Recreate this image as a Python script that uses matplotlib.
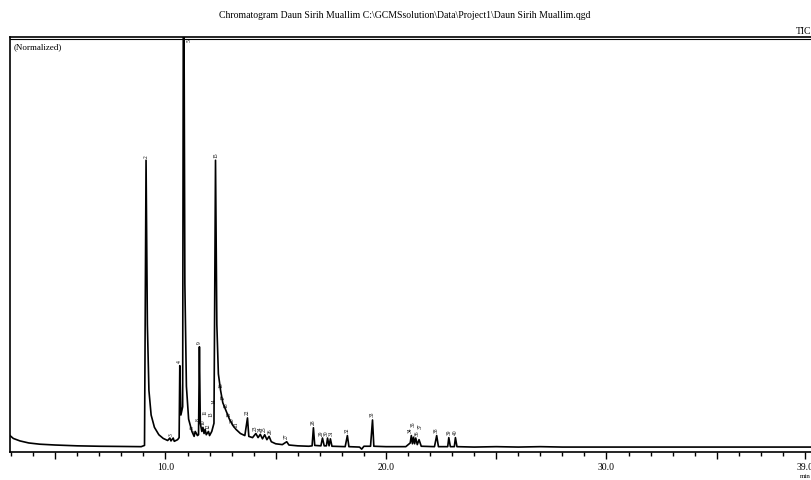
"""GC-MS total ion chromatogram, Daun Sirih Muallim (normalized)."""
import matplotlib.pyplot as plt
from matplotlib.ticker import MultipleLocator

# trace: retention time (min) and normalized intensity (%)
rt_min = [
    2.95, 3.1, 3.4, 3.8, 4.3, 5.0, 6.0, 7.0, 8.0, 8.9, 9.05, 9.12, 9.18, 9.25,
    9.35, 9.5, 9.7, 9.9, 10.1, 10.2, 10.25, 10.35, 10.4, 10.55, 10.62, 10.65,
    10.7, 10.78, 10.82, 10.88, 10.95, 11.05, 11.2, 11.3, 11.35, 11.45, 11.5,
    11.54, 11.58, 11.65, 11.7, 11.75, 11.8, 11.85, 11.95, 12.0, 12.1, 12.2,
    12.27, 12.33, 12.4, 12.5, 12.6, 12.75, 12.9, 13.05, 13.2, 13.4, 13.6,
    13.72, 13.78, 13.95, 14.1, 14.2, 14.3, 14.4, 14.5, 14.6, 14.7, 14.8, 15.0,
    15.3, 15.5, 15.6, 16.0, 16.5, 16.65, 16.71, 16.77, 17.05, 17.12, 17.2,
    17.3, 17.35, 17.42, 17.48, 17.55, 18.15, 18.25, 18.32, 18.8, 18.9, 19.0,
    19.3, 19.39, 19.45, 20.0, 20.9, 21.1, 21.15, 21.2, 21.25, 21.3, 21.35,
    21.42, 21.5, 21.6, 22.2, 22.3, 22.38, 22.8, 22.85, 22.92, 23.1, 23.15,
    23.22, 24.0, 25.0, 26.0, 27.0, 28.0, 30.0, 32.0, 34.0, 36.0, 38.0, 40.5,
]
intensity = [
    3.0, 2.3, 1.7, 1.2, 0.9, 0.7, 0.5, 0.4, 0.35, 0.3, 0.6, 70.0, 30.0, 14.0,
    8.0, 5.0, 3.2, 2.3, 1.8, 2.4, 1.7, 2.4, 1.6, 2.0, 2.5, 20.0,
    8.0, 10.0, 140.0, 40.0, 15.0, 7.0, 4.0, 2.8, 4.0, 3.0, 3.2,
    24.6, 6.0, 4.0, 5.0, 3.5, 4.5, 3.2, 4.0, 3.0, 4.0, 6.0,
    70.0, 30.0, 18.0, 14.0, 11.0, 9.0, 7.0, 5.5, 4.5, 3.5, 3.0,
    7.3, 2.8, 2.5, 3.5, 2.5, 3.3, 2.2, 3.2, 2.0, 2.8, 1.5, 1.0,
    0.8, 1.5, 0.7, 0.5, 0.4, 0.5, 4.9, 0.6, 0.5, 2.4, 0.5,
    0.5, 2.4, 0.5, 2.2, 0.4, 0.3, 3.0, 0.3, 0.2, -0.3, 0.4,
    0.4, 6.8, 0.4, 0.3, 0.3, 1.2, 3.0, 1.0, 2.6, 1.0, 2.4,
    0.8, 2.0, 0.4, 0.3, 3.0, 0.3, 0.3, 2.5, 0.3, 0.3, 2.5,
    0.3, 0.2, 0.3, 0.2, 0.3, 0.2, 0.2, 0.2, 0.2, 0.2, 0.2, 0.2,
]

# peak number labels (clustered ones stacked a little, as the software does)
peak_rt = [9.12, 10.28, 10.65, 10.82, 11.2, 11.4, 11.5, 11.54, 11.68, 11.8,
           11.95, 12.08, 12.2, 12.27, 12.5, 12.6, 12.75, 12.9, 13.05, 13.2,
           13.72, 14.05, 14.3, 14.5, 14.75, 15.5, 16.71, 17.08, 17.3, 17.52,
           18.25, 19.39, 21.1, 21.25, 21.4, 21.55, 22.3, 22.85, 23.15]
peak_top = [70.0, 2.4, 20.0, 100.0, 4.0, 3.0, 6.0, 24.6, 5.0, 7.5,
            4.0, 7.0, 10.0, 70.0, 14.0, 11.0, 9.0, 7.0, 5.5, 4.5,
            7.3, 3.5, 3.3, 3.2, 2.8, 1.5, 4.9, 2.4, 2.4, 2.2,
            3.0, 6.8, 3.0, 4.6, 2.4, 4.0, 3.0, 2.5, 2.5]
peak_no = [str(n) for n in range(2, 41)]

plt.rcParams["font.family"] = ["Liberation Serif", "DejaVu Serif"]

fig = plt.figure(figsize=(8.12, 4.8), dpi=100)
ax = fig.add_axes([10 / 812, 28 / 480, 828 / 812, 415 / 480])

ax.plot(rt_min, intensity, color="black", lw=1.2, clip_on=True)
ax.set_xlim(2.95, 40.5)
ax.set_ylim(-1, 100)

for t, h, lab in zip(peak_rt, peak_top, peak_no):
    if h >= 100:
        ax.text(t + 0.25, 99.5, lab, rotation=90, fontsize=4, ha="center", va="top")
    else:
        ax.text(t, h + 0.6, lab, rotation=90, fontsize=4, ha="center", va="bottom")

# ticks: 1 min minor, 5 min medium, labelled at 10/20/30/39
ax.xaxis.set_minor_locator(MultipleLocator(1))
ax.set_xticks([5, 10, 15, 20, 25, 30, 35, 39])
ax.set_xticklabels(["", "10.0", "", "20.0", "", "30.0", "", "39.0"], fontsize=7)
ax.tick_params(axis="x", which="major", direction="out", length=5, width=1, pad=3)
ax.tick_params(axis="x", which="minor", direction="out", length=3, width=1)
ax.set_yticks([])

for side in ["left", "bottom", "top"]:
    ax.spines[side].set_linewidth(1.2)
ax.spines["right"].set_visible(False)
# double rule under the top frame
ax.axhline(99.4, color="black", lw=0.8)

ax.text(0.004, 0.985, "(Normalized)", transform=ax.transAxes, fontsize=6.5,
        ha="left", va="top")
fig.text(405 / 812, 1 - 15 / 480,
         "Chromatogram Daun Sirih Muallim C:\\GCMSsolution\\Data\\Project1\\Daun Sirih Muallim.qgd",
         fontsize=7, ha="center", va="center")
fig.text(811 / 812, 1 - 31 / 480, "TIC", fontsize=7, ha="right", va="center")
fig.text(811 / 812, 1 - 477 / 480, "min", fontsize=5, ha="right", va="center")

fig.savefig("out.png", dpi=100)
